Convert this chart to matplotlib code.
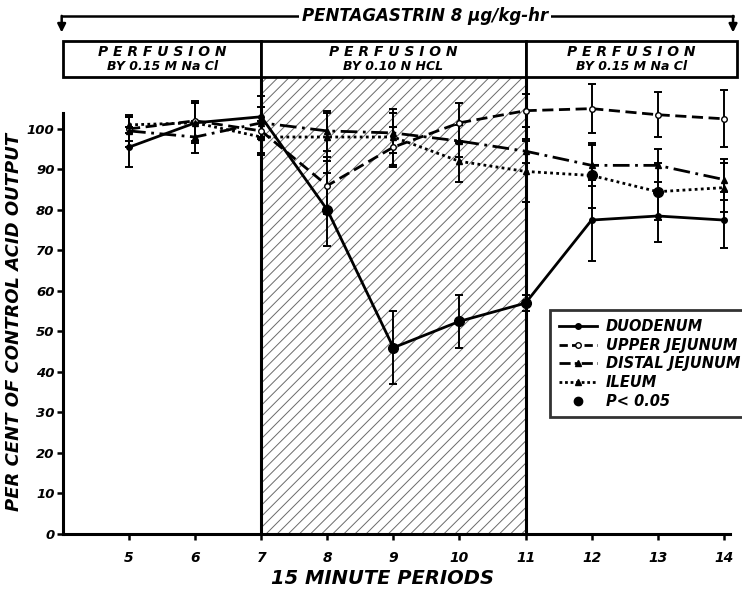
import matplotlib.pyplot as plt
from matplotlib.lines import Line2D
from matplotlib.patches import Rectangle

# data (per cent of control acid output)
periods = [5, 6, 7, 8, 9, 10, 11, 12, 13, 14]
duodenum = [95.5, 101.5, 103, 80, 46, 52.5, 57, 77.5, 78.5, 77.5]
duodenum_err = [5, 5, 5, 9, 9, 6.5, 2, 10, 6.5, 7]
upper_jejunum = [100, 102, 99.5, 86, 95.5, 101.5, 104.5, 105, 103.5, 102.5]
upper_jejunum_err = [3, 5, 6, 7, 5, 5, 4, 6, 5.5, 7]
distal_jejunum = [99.5, 98, 101.5, 99.5, 99, 97, 94.5, 91, 91, 87.5]
distal_jejunum_err = [4, 4, 4, 5, 5, 4, 3, 5, 4, 5]
ileum = [101, 101.5, 98, 98, 98, 92, 89.5, 88.5, 84.5, 85.5]
ileum_err = [2, 5, 4, 6, 7, 5, 7.5, 8, 7, 6]

# periods with P < 0.05
sig_duodenum = [8, 9, 10, 11]
sig_ileum = [12, 13]

x_ticks = [5, 6, 7, 8, 9, 10, 11, 12, 13, 14]
y_ticks = [0, 10, 20, 30, 40, 50, 60, 70, 80, 90, 100]
phases = [(4, 7, "P E R F U S I O N", "BY 0.15 M Na Cl"),
          (7, 11, "P E R F U S I O N", "BY 0.10 N HCL"),
          (11, 14.2, "P E R F U S I O N", "BY 0.15 M Na Cl")]

font = dict(fontweight="bold", fontstyle="italic", family="DejaVu Sans")
plt.rcParams["hatch.linewidth"] = 0.7

fig = plt.figure(figsize=(7.42, 5.90), dpi=100)
ax = fig.add_axes([63 / 742, 1 - 534 / 590, 674 / 742, 493 / 590])
ax.set_xlim(4, 14.2)
ax.set_ylim(0, 121.7)

box_lo, box_hi = 112.8, 121.7

# acid perfusion period, hatched
ax.add_patch(Rectangle((7, 0), 4, box_lo, facecolor="white", edgecolor="#6a6a6a",
                       hatch="///", linewidth=0, zorder=0))
for xv in (7, 11):
    ax.plot([xv, xv], [0, box_lo], color="black", lw=2.2, zorder=1)

# header boxes
for x0, x1, top, bottom in phases:
    ax.add_patch(Rectangle((x0, box_lo), x1 - x0, box_hi - box_lo, facecolor="white",
                           edgecolor="black", lw=2, clip_on=False, zorder=3))
    xc = (x0 + x1) / 2
    ax.text(xc, box_lo + 6.3, top, ha="center", va="center", fontsize=10,
            clip_on=False, zorder=4, **font)
    ax.text(xc, box_lo + 2.6, bottom, ha="center", va="center", fontsize=9,
            clip_on=False, zorder=4, **font)

# pentagastrin arrow
arrow_y = 127.9
ax.plot([3.98, 14.14], [arrow_y, arrow_y], color="black", lw=1.8, clip_on=False)
for xa in (3.98, 14.14):
    ax.annotate("", xy=(xa, 123.8), xytext=(xa, arrow_y), annotation_clip=False,
                arrowprops=dict(arrowstyle="-|>", color="black", lw=1.8,
                                mutation_scale=12, shrinkA=0, shrinkB=0))
ax.text(9.48, arrow_y, "PENTAGASTRIN 8 µg/kg-hr", ha="center", va="center",
        fontsize=12, clip_on=False, zorder=4,
        bbox=dict(facecolor="white", edgecolor="none", pad=2), **font)

series = [
    (duodenum, duodenum_err, "-", "o", "black"),
    (upper_jejunum, upper_jejunum_err, (0, (4, 2)), "o", "white"),
    (distal_jejunum, distal_jejunum_err, (0, (6, 2, 1, 2)), "^", "black"),
    (ileum, ileum_err, (0, (1, 1.2)), "^", "black"),
]
for vals, errs, ls, mk, mfc in series:
    ax.errorbar(periods, vals, yerr=errs, color="black", ls=ls, lw=2, marker=mk,
                ms=4, mfc=mfc, mec="black", ecolor="black", elinewidth=1.4,
                capsize=3, capthick=1.4, zorder=5)

sig_vals = [duodenum[periods.index(p)] for p in sig_duodenum]
ax.plot(sig_duodenum, sig_vals, "o", color="black", ms=7, zorder=6)
sig_vals = [ileum[periods.index(p)] for p in sig_ileum]
ax.plot(sig_ileum, sig_vals, "o", color="black", ms=7, zorder=6)

# axes styling
for side in ("top", "right"):
    ax.spines[side].set_visible(False)
ax.spines["left"].set_linewidth(2.2)
ax.spines["bottom"].set_linewidth(2.2)
ax.spines["left"].set_bounds(0, 104)
ax.spines["bottom"].set_bounds(4, 14.1)
ax.set_xticks(x_ticks)
ax.set_yticks(y_ticks)
ax.set_xticklabels([str(t) for t in x_ticks], fontsize=10, **font)
ax.set_yticklabels([str(t) for t in y_ticks], fontsize=9.5, **font)
ax.tick_params(axis="x", direction="out", length=4, width=1.8, pad=8)
ax.tick_params(axis="y", direction="out", length=4, width=1.8, pad=2)

fig.text(383 / 742, 1 - 578 / 590, "15 MINUTE PERIODS", ha="center", va="center",
         fontsize=14, **font)
fig.text(14 / 742, 1 - 322 / 590, "PER CENT OF CONTROL ACID OUTPUT", ha="center",
         va="center", rotation=90, fontsize=13, **font)

handles = [
    Line2D([], [], color="black", ls="-", lw=2, marker="o", ms=4, label="DUODENUM"),
    Line2D([], [], color="black", ls=(0, (3, 1.5)), lw=2, marker="o", ms=4, mfc="white",
           label="UPPER JEJUNUM"),
    Line2D([], [], color="black", ls=(0, (4, 1.5, 1, 1.5)), lw=2, marker="^", ms=4,
           label="DISTAL JEJUNUM"),
    Line2D([], [], color="black", ls=(0, (1, 1)), lw=2, marker="^", ms=4, label="ILEUM"),
    Line2D([], [], color="black", ls="none", marker="o", ms=6, label="P< 0.05"),
]
leg = fig.legend(handles=handles, loc="upper left", bbox_to_anchor=(543 / 742, 1 - 303 / 590),
                 frameon=True, fancybox=False, edgecolor="black", handlelength=2.6,
                 borderpad=0.6, labelspacing=0.25, handletextpad=0.6,
                 prop=dict(weight="bold", style="italic", size=10.5, family="DejaVu Sans"))
leg.get_frame().set_linewidth(2)

fig.savefig("out.png", dpi=100)
